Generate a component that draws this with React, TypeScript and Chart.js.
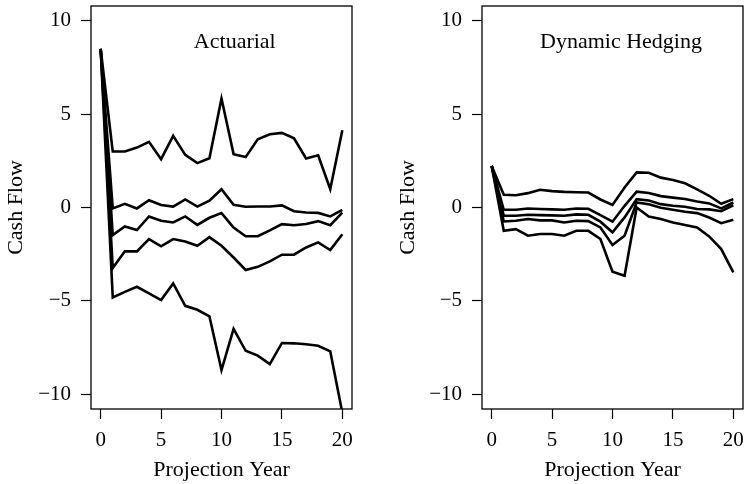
import { useEffect, useRef } from "react";
import { Chart, registerables } from "chart.js";

Chart.register(...registerables);

const years = [0, 1, 2, 3, 4, 5, 6, 7, 8, 9, 10, 11, 12, 13, 14, 15, 16, 17, 18, 19, 20];
const xTickValues = [0, 5, 10, 15, 20];
const yTickValues = [-10, -5, 0, 5, 10];

// Actuarial panel series
const act1 = [8.5, 3.0, 3.0, 3.21, 3.52, 2.59, 3.84, 2.82, 2.38, 2.64, 5.84, 2.86, 2.7, 3.66, 3.93, 4.0, 3.71, 2.63, 2.8, 0.98, 4.14];
const act2 = [8.5, -0.05, 0.2, -0.05, 0.39, 0.13, 0.05, 0.43, 0.05, 0.36, 0.98, 0.14, 0.04, 0.05, 0.05, 0.11, -0.2, -0.27, -0.29, -0.48, -0.13];
const act3 = [8.5, -1.48, -1.02, -1.21, -0.48, -0.71, -0.8, -0.48, -0.93, -0.55, -0.3, -1.07, -1.54, -1.54, -1.23, -0.89, -0.95, -0.88, -0.73, -0.95, -0.27];
const act4 = [8.5, -3.24, -2.35, -2.35, -1.69, -2.08, -1.69, -1.82, -2.05, -1.59, -2.05, -2.68, -3.35, -3.18, -2.89, -2.53, -2.53, -2.14, -1.87, -2.28, -1.43];
const act5 = [8.5, -4.82, -4.52, -4.25, -4.6, -4.96, -4.07, -5.27, -5.48, -5.83, -8.71, -6.51, -7.68, -7.94, -8.39, -7.26, -7.28, -7.33, -7.41, -7.71, -11.0];

// Dynamic Hedging panel series
const dyn1 = [2.23, 0.68, 0.66, 0.77, 0.95, 0.88, 0.84, 0.82, 0.8, 0.43, 0.14, 1.07, 1.88, 1.86, 1.6, 1.47, 1.3, 0.97, 0.63, 0.2, 0.45];
const dyn2 = [2.23, -0.12, -0.12, -0.05, -0.08, -0.1, -0.12, -0.05, -0.07, -0.41, -0.76, 0.09, 0.85, 0.78, 0.61, 0.53, 0.46, 0.32, 0.22, -0.05, 0.27];
const dyn3 = [2.23, -0.44, -0.44, -0.39, -0.41, -0.42, -0.44, -0.37, -0.39, -0.76, -1.33, -0.53, 0.45, 0.38, 0.18, 0.09, 0.04, -0.08, -0.1, -0.2, 0.12];
const dyn4 = [2.23, -0.75, -0.71, -0.62, -0.69, -0.69, -0.8, -0.71, -0.73, -1.07, -2.01, -1.51, 0.27, 0.17, -0.01, -0.12, -0.23, -0.3, -0.54, -0.84, -0.66];
const dyn5 = [2.23, -1.25, -1.16, -1.51, -1.42, -1.42, -1.51, -1.25, -1.25, -1.69, -3.44, -3.66, 0.0, -0.48, -0.62, -0.8, -0.94, -1.07, -1.55, -2.23, -3.48];

const actuarialSeries = [act1, act2, act3, act4, act5];
const hedgingSeries = [dyn1, dyn2, dyn3, dyn4, dyn5];

const FONT = "'Liberation Serif', 'Times New Roman', serif";

function fmt(v: number): string {
  return v < 0 ? "\u2212" + Math.abs(v) : String(v);
}

function makeConfig(
  series: number[][],
  title: string,
  titleX: number,
  padLeft: number,
  yWidth: number,
  padRight: number
): any {
  const boxPlugin = {
    id: "panelBox",
    afterDraw(chart: any) {
      const { ctx, chartArea } = chart;
      const xs = chart.scales.x;
      const ys = chart.scales.y;
      ctx.save();
      ctx.strokeStyle = "#000";
      ctx.lineWidth = 1.3;
      ctx.strokeRect(chartArea.left, chartArea.top, chartArea.right - chartArea.left, chartArea.bottom - chartArea.top);
      ctx.fillStyle = "#000";
      ctx.font = `22px ${FONT}`;
      ctx.textAlign = "center";
      ctx.textBaseline = "middle";
      ctx.fillText(title, xs.getPixelForValue(titleX), ys.getPixelForValue(8.86));
      ctx.restore();
    },
  };

  return {
    type: "line",
    data: {
      datasets: series.map((s) => ({
        data: years.map((x, i) => ({ x, y: s[i] })),
        borderColor: "#000",
        borderWidth: 2.6,
        pointRadius: 0,
        tension: 0,
        fill: false,
      })),
    },
    options: {
      animation: false,
      responsive: false,
      maintainAspectRatio: false,
      layout: { padding: { left: padLeft, right: padRight, top: 6, bottom: 0 } },
      plugins: { legend: { display: false }, tooltip: { enabled: false } },
      scales: {
        x: {
          type: "linear",
          min: -0.8,
          max: 20.8,
          afterBuildTicks: (s: any) => {
            s.ticks = xTickValues.map((v) => ({ value: v }));
          },
          afterFit: (s: any) => {
            s.height = 75;
            s.paddingLeft = 0;
            s.paddingRight = 0;
          },
          grid: { drawOnChartArea: false, drawTicks: true, tickLength: 10, tickColor: "#000", tickWidth: 1.2, color: "#000" },
          border: { display: false },
          ticks: {
            padding: 9,
            color: "#000",
            maxRotation: 0,
            autoSkip: false,
            font: { family: FONT, size: 21 },
            callback: (v: any) => fmt(Number(v)),
          },
          title: {
            display: true,
            text: "Projection Year",
            color: "#000",
            font: { family: FONT, size: 22 },
            padding: { top: 0, bottom: 1 },
          },
        },
        y: {
          type: "linear",
          min: -10.8,
          max: 10.8,
          afterBuildTicks: (s: any) => {
            s.ticks = yTickValues.map((v) => ({ value: v }));
          },
          afterFit: (s: any) => {
            s.width = yWidth;
            s.paddingTop = 0;
            s.paddingBottom = 0;
          },
          grid: { drawOnChartArea: false, drawTicks: true, tickLength: 10, tickColor: "#000", tickWidth: 1.2, color: "#000" },
          border: { display: false },
          ticks: {
            padding: 10,
            color: "#000",
            autoSkip: false,
            font: { family: FONT, size: 21 },
            callback: (v: any) => fmt(Number(v)),
          },
          title: {
            display: true,
            text: "Cash Flow",
            color: "#000",
            font: { family: FONT, size: 22 },
            padding: { top: 3.5, bottom: 0 },
          },
        },
      },
    },
    plugins: [boxPlugin],
  };
}

function Panel(props: { series: number[][]; title: string; titleX: number; padLeft: number; yWidth: number; padRight: number; left: number }) {
  const ref = useRef<HTMLCanvasElement | null>(null);
  useEffect(() => {
    if (!ref.current) return;
    const chart = new Chart(
      ref.current,
      makeConfig(props.series, props.title, props.titleX, props.padLeft, props.yWidth, props.padRight)
    );
    return () => chart.destroy();
  }, []);
  return (
    <canvas
      ref={ref}
      width={372}
      height={484}
      style={{ position: "absolute", left: props.left, top: 0, width: 372, height: 484, display: "block" }}
    />
  );
}

export default function App() {
  return (
    <div style={{ position: "fixed", left: 0, top: 0, width: 744, height: 484, background: "#fff", overflow: "hidden" }}>
      <Panel series={actuarialSeries} title="Actuarial" titleX={11.1} padLeft={0} yWidth={91} padRight={20} left={0} />
      <Panel series={hedgingSeries} title="Dynamic Hedging" titleX={10.7} padLeft={20} yWidth={90} padRight={1} left={372} />
    </div>
  );
}
